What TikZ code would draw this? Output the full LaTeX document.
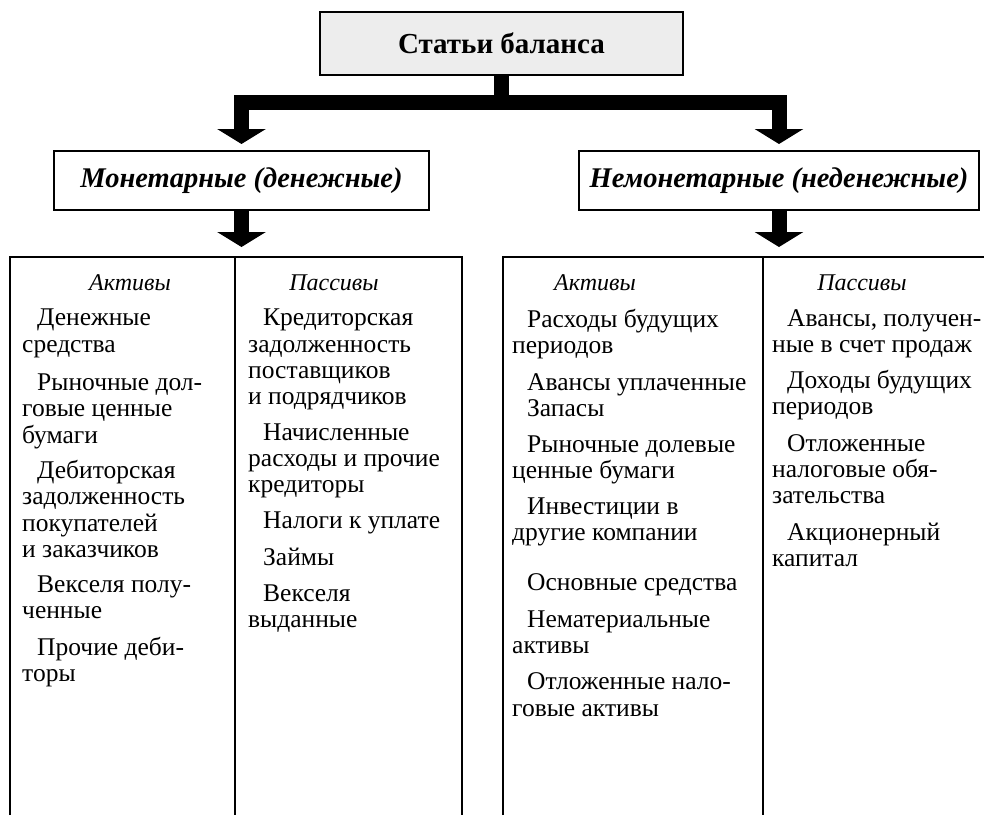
\documentclass[tikz,border=0pt]{standalone}
\usepackage{fontspec}
\setmainfont{Liberation Serif}
\usetikzlibrary{arrows.meta,positioning}

\newcommand{\fl}{\hspace*{15pt}}

\tikzset{
  titlebox/.style={draw, line width=2pt, fill=black!7, minimum width=363pt, minimum height=63pt,
    font=\fontsize{29}{32}\selectfont\bfseries},
  groupbox/.style={draw, line width=2pt, minimum height=59pt,
    font=\fontsize{28.5}{30}\selectfont\bfseries\itshape},
  bararrow/.style={line width=15pt, -{Triangle[width=48pt,length=15pt]}},
  colhead/.style={font=\fontsize{24}{28}\selectfont\itshape},
  coltext/.style={anchor=north west, align=left, inner sep=0pt,
    font=\fontsize{25.5}{26.3}\selectfont},
  colframe/.style={line width=1.8pt}
}

\begin{document}
\begin{tikzpicture}[x=1pt, y=-1pt]
    \useasboundingbox (0,0) rectangle (984,815);

    % Title
    \node[titlebox] (stat) at (501.5,43.5) {Статьи баланса};

    % Groups
    \node[groupbox, minimum width=375pt] (mon) at (241.5,180.5) {Монетарные (денежные)};
    \node[groupbox, minimum width=400pt] (nemon) at (779,180.5) {Немонетарные (неденежные)};

    % Column frames
    \coordinate (mcol) at (240,257);
    \coordinate (ncol) at (765,257);
    \draw[colframe] (10,815) |- (462,257) -- (462,815);
    \draw[colframe] (235,257) -- (235,815);
    \draw[colframe] (503,815) |- (984,257);
    \draw[colframe] (763,257) -- (763,815);

    % Arrows
    \draw[bararrow, shorten >=6pt] (stat.south) -- ++(0,26) -| (mon.north);
    \draw[bararrow, shorten >=6pt] (stat.south) -- ++(0,26) -| (nemon.north);
    \draw[bararrow, shorten >=10pt] (mon.south) -- (mon.south |- mcol);
    \draw[bararrow, shorten >=10pt] (nemon.south) -- (nemon.south |- ncol);

    % Monetary items
    \node[colhead] (ma) at (130,283) {Активы};
    \node[coltext] (matext) at (22,309) {\fl Денежные\\средства\\[12pt]
      \fl Рыночные дол-\\говые ценные\\бумаги\\[9pt]
      \fl Дебиторская\\задолженность\\покупателей\\и заказчиков\\[9pt]
      \fl Векселя полу-\\ченные\\[10pt]
      \fl Прочие деби-\\торы};
    \node[colhead] (mp) at (334,283) {Пассивы};
    \node[coltext] (mptext) at (248,309) {\fl Кредиторская\\задолженность\\поставщиков\\и подрядчиков\\[9pt]
      \fl Начисленные\\расходы и прочие\\кредиторы\\[9pt]
      \fl Налоги к уплате\\[11pt]
      \fl Займы\\[10pt]
      \fl Векселя\\выданные};

    % Non-monetary items
    \node[colhead] (na) at (595,283) {Активы};
    \node[coltext] (natext) at (512,309) {\fl Расходы будущих\\периодов\\[10pt]
      \fl Авансы уплаченные\\
      \fl Запасы\\[10pt]
      \fl Рыночные долевые\\ценные бумаги\\[9pt]
      \fl Инвестиции в\\другие компании\\[24pt]
      \fl Основные средства\\[10pt]
      \fl Нематериальные\\активы\\[10pt]
      \fl Отложенные нало-\\говые активы};
    \node[colhead] (np) at (862,283) {Пассивы};
    \node[coltext] (nptext) at (772,309) {\fl Авансы, получен-\\ные в счет продаж\\[10pt]
      \fl Доходы будущих\\периодов\\[10pt]
      \fl Отложенные\\налоговые обя-\\зательства\\[10pt]
      \fl Акционерный\\капитал};
\end{tikzpicture}
\end{document}
